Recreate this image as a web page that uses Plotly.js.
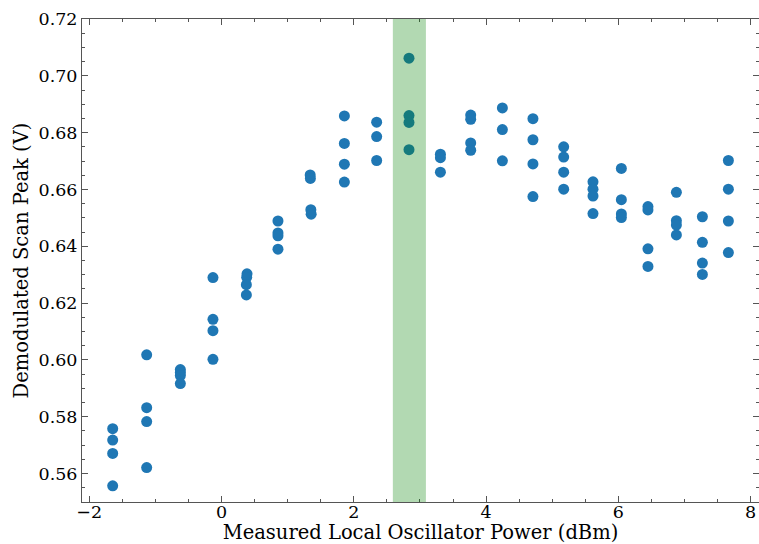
<!DOCTYPE html>
<html>
<head>
<meta charset="utf-8">
<script src="https://cdn.plot.ly/plotly-3.0.1.min.js"></script>
<style>html,body{margin:0;padding:0;background:#fff;}#chart{width:759px;height:544px;}</style>
</head>
<body>
<div id="chart"></div>
<script>
// Measured LO power (dBm) for each point
const loPower = [
  -1.646, -1.646, -1.646, -1.646,
  -1.132, -1.132, -1.132, -1.132,
  -0.623, -0.623, -0.623, -0.623,
  -0.130, -0.130, -0.130, -0.130,
  0.385, 0.380, 0.375, 0.375,
  0.853, 0.853, 0.853, 0.853,
  1.340, 1.343, 1.350, 1.355,
  1.857, 1.857, 1.857, 1.857,
  2.345, 2.345, 2.345,
  2.834, 2.834, 2.834, 2.834,
  3.309, 3.309, 3.309,
  3.767, 3.767, 3.767, 3.767,
  4.246, 4.246, 4.246,
  4.708, 4.708, 4.708, 4.708,
  5.173, 5.173, 5.173, 5.173,
  5.616, 5.616, 5.616, 5.616,
  6.045, 6.045, 6.045, 6.045,
  6.447, 6.447, 6.447, 6.447,
  6.877, 6.877, 6.877, 6.877,
  7.270, 7.270, 7.270, 7.270,
  7.663, 7.663, 7.663, 7.663
];
// Demodulated scan peak (V)
const scanPeak = [
  0.5758, 0.5718, 0.5671, 0.5557,
  0.6018, 0.5832, 0.5783, 0.5621,
  0.5966, 0.5956, 0.5945, 0.5917,
  0.6290, 0.6143, 0.6103, 0.6002,
  0.6303, 0.6291, 0.6265, 0.6229,
  0.6489, 0.6447, 0.6437, 0.6390,
  0.6651, 0.6639, 0.6529, 0.6513,
  0.6859, 0.6762, 0.6689, 0.6626,
  0.6837, 0.6786, 0.6702,
  0.7062, 0.6860, 0.6836, 0.6740,
  0.6724, 0.6712, 0.6661,
  0.6862, 0.6847, 0.6764, 0.6738,
  0.6887, 0.6811, 0.6701,
  0.6849, 0.6775, 0.6690, 0.6575,
  0.6750, 0.6714, 0.6661, 0.6601,
  0.6627, 0.6601, 0.6577, 0.6515,
  0.6674, 0.6564, 0.6514, 0.6501,
  0.6540, 0.6528, 0.6391, 0.6329,
  0.6590, 0.6490, 0.6475, 0.6440,
  0.6504, 0.6414, 0.6341, 0.6301,
  0.6702, 0.6601, 0.6489, 0.6378
];
// Highlighted LO power band (dBm)
const bandStart = [2.59];
const bandEnd = [3.09];
const xTickVals = [-2, 0, 2, 4, 6, 8];
const yTickVals = [0.56, 0.58, 0.60, 0.62, 0.64, 0.66, 0.68, 0.70, 0.72];

const tickFont = {family: 'DejaVu Serif', size: 17.5, color: '#000'};
const titleFont = {family: 'DejaVu Serif', size: 19.5, color: '#000'};
const spine = '#555';

const traces = [
  {
    x: loPower, y: scanPeak, type: 'scatter', mode: 'markers',
    marker: {color: '#1f77b4', size: 11},
    hoverinfo: 'x+y', showlegend: false
  },
  {
    x: [], y: [], yaxis: 'y2', type: 'scatter', mode: 'markers', showlegend: false, hoverinfo: 'skip'
  }
];

const shapes = bandStart.map((s, i) => ({
  type: 'rect', xref: 'x', yref: 'paper', x0: s, x1: bandEnd[i], y0: 0, y1: 1,
  fillcolor: 'rgba(0,128,0,0.3)', line: {width: 0}, layer: 'above'
}));

const layout = {
  width: 759, height: 544,
  margin: {l: 82, r: 0, t: 19, b: 42},
  paper_bgcolor: '#fff', plot_bgcolor: '#fff',
  font: tickFont,
  showlegend: false,
  xaxis: {
    range: [-2.11, 8.126],
    tickvals: xTickVals, ticks: 'inside', ticklen: 6, tickwidth: 1, tickcolor: spine,
    minor: {dtick: 0.5, tick0: 0, ticks: 'inside', ticklen: 3, tickcolor: spine, tickwidth: 1},
    showline: true, linecolor: spine, linewidth: 1, mirror: 'ticks',
    showgrid: false, zeroline: false,
    tickfont: tickFont, ticklabelstandoff: -6,
    title: {text: 'Measured Local Oscillator Power (dBm)', font: titleFont, standoff: 1}
  },
  yaxis: {
    range: [0.55, 0.72],
    tickvals: yTickVals, tickformat: '.2f', ticks: 'inside', ticklen: 6, tickwidth: 1, tickcolor: spine,
    minor: {dtick: 0.005, tick0: 0, ticks: 'inside', ticklen: 3, tickcolor: spine, tickwidth: 1},
    showline: true, linecolor: spine, linewidth: 1,
    showgrid: false, zeroline: false,
    tickfont: tickFont,
    title: {text: 'Demodulated Scan Peak (V)', font: titleFont, standoff: 4}
  },
  yaxis2: {
    overlaying: 'y', side: 'right', matches: 'y', range: [0.55, 0.72],
    tickvals: yTickVals, ticks: 'inside', ticklen: 6, tickcolor: spine, showticklabels: false,
    minor: {dtick: 0.005, tick0: 0, ticks: 'inside', ticklen: 3, tickcolor: spine},
    showline: false, showgrid: false, zeroline: false
  },
  shapes: shapes
};

Plotly.newPlot('chart', traces, layout, {displayModeBar: false, staticPlot: true});
</script>
</body>
</html>
